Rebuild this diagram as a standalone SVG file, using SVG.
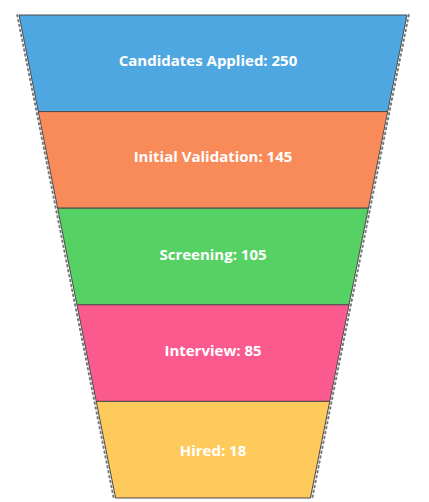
<svg xmlns="http://www.w3.org/2000/svg" width="429" height="502" viewBox="0 0 429 502">
<style>
.seg{stroke:#4a4a4a;stroke-width:1;stroke-linejoin:miter}
.lbl{font-family:"Open Sans","Liberation Sans",sans-serif;font-weight:700;font-size:15px;fill:#ffffff;text-anchor:middle;dominant-baseline:central}
.dots{fill:none;stroke:#7a7a7a;stroke-width:2;stroke-dasharray:1.6 3.4;stroke-linecap:round}
</style>
<rect width="429" height="502" fill="#ffffff"/>
<g id="connectors">
<path class="dots" d="M17.2 15 L113.7 498"/>
<path class="dots" d="M408.8 15 L312.3 498"/>
</g>
<g id="stage-applied">
<polygon class="seg" fill="#4fa7e2" points="19,15 407,15 387.68,111.6 38.32,111.6"/>
<text class="lbl" x="208" y="60">Candidates Applied: 250</text>
</g>
<g id="stage-validation">
<polygon class="seg" fill="#f98b5a" points="38.32,111.6 387.68,111.6 368.36,208.2 57.64,208.2"/>
<text class="lbl" x="213" y="156">Initial Validation: 145</text>
</g>
<g id="stage-screening">
<polygon class="seg" fill="#56d163" points="57.64,208.2 368.36,208.2 349.04,304.8 76.96,304.8"/>
<text class="lbl" x="213" y="254">Screening: 105</text>
</g>
<g id="stage-interview">
<polygon class="seg" fill="#fb5a8f" points="76.96,304.8 349.04,304.8 329.72,401.4 96.28,401.4"/>
<text class="lbl" x="213" y="350">Interview: 85</text>
</g>
<g id="stage-hired">
<polygon class="seg" fill="#fdca5b" points="96.28,401.4 329.72,401.4 310.4,498 115.6,498"/>
<text class="lbl" x="213" y="450">Hired: 18</text>
</g>
</svg>
